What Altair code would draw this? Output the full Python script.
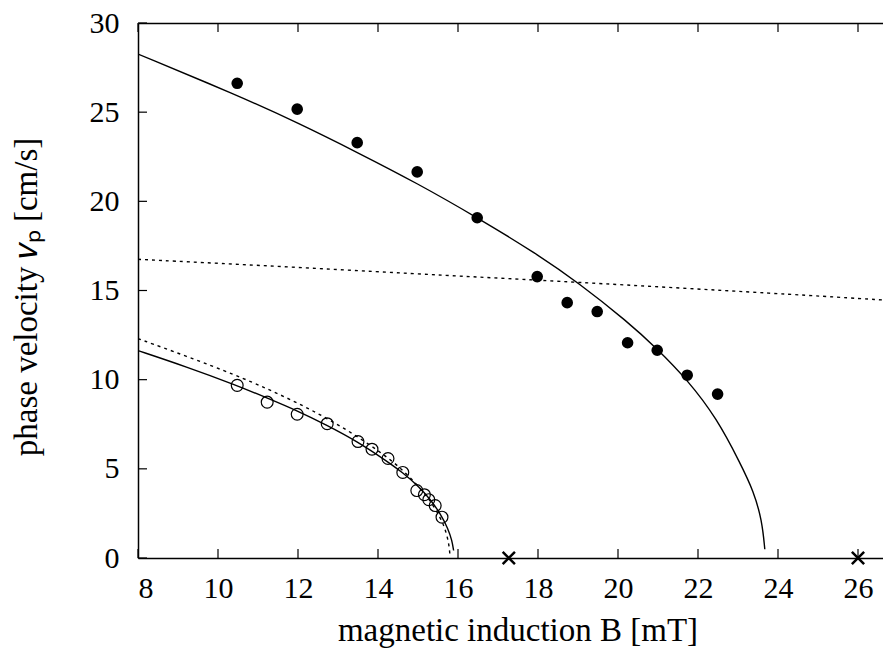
import altair as alt
import pandas as pd

W, H = 745, 535
FONT = "Liberation Serif"

# ---- data ----
# upper solid curve
up_B = [8.0, 10.48, 11.98, 13.48, 14.99, 16.49, 17.97, 19.0, 20.24, 20.97, 21.74, 22.47, 23.06, 23.39, 23.6, 23.67]
up_v = [28.26, 25.95, 24.42, 22.75, 21.0, 19.08, 17.05, 15.45, 13.25, 11.75, 9.98, 7.83, 5.3, 3.75, 2.1, 0.49]
# nearly straight dotted curve
flat_B = [8.0, 12.0, 15.81, 18.56, 24.31, 26.83]
flat_v = [16.75, 16.3, 15.83, 15.52, 14.79, 14.44]
# lower solid curve
lo_B = [8.0, 9.2, 10.47, 11.22, 11.97, 12.72, 13.47, 14.23, 14.61, 15.0, 15.3, 15.57, 15.75, 15.85, 15.89]
lo_v = [11.63, 10.73, 9.68, 8.98, 8.27, 7.45, 6.55, 5.42, 4.8, 4.05, 3.32, 2.45, 1.65, 0.98, 0.42]
# lower dotted curve
lod_B = [8.0, 9.2, 10.47, 11.22, 11.97, 12.72, 13.47, 14.23, 14.61, 15.0, 15.3, 15.57, 15.7, 15.78, 15.8]
lod_v = [12.3, 11.33, 10.23, 9.5, 8.72, 7.84, 6.85, 5.66, 4.95, 4.06, 3.25, 2.23, 1.5, 0.7, 0.1]
# filled circles
fill_B = [10.48, 11.98, 13.48, 14.98, 16.48, 17.98, 18.73, 19.48, 20.24, 20.98, 21.73, 22.49]
fill_v = [26.62, 25.17, 23.29, 21.65, 19.08, 15.78, 14.32, 13.82, 12.07, 11.65, 10.25, 9.19]
# open circles
open_B = [10.48, 11.23, 11.98, 12.73, 13.5, 13.85, 14.25, 14.62, 14.97, 15.16, 15.27, 15.43, 15.6]
open_v = [9.68, 8.74, 8.06, 7.53, 6.53, 6.1, 5.58, 4.8, 3.78, 3.55, 3.27, 2.94, 2.29]
# crosses on the axis
cross_B = [17.27, 26.0]
cross_v = [0.0, 0.0]
# tick values
x_ticks = [8, 10, 12, 14, 16, 18, 20, 22, 24, 26]
y_ticks = [0, 5, 10, 15, 20, 25, 30]

solid_df = pd.concat([
    pd.DataFrame({"B": up_B, "v": up_v, "curve": "upper"}),
    pd.DataFrame({"B": lo_B, "v": lo_v, "curve": "lower"}),
])
dotted_df = pd.concat([
    pd.DataFrame({"B": flat_B, "v": flat_v, "curve": "flat"}),
    pd.DataFrame({"B": lod_B, "v": lod_v, "curve": "lower_d"}),
])
fill_df = pd.DataFrame({"B": fill_B, "v": fill_v})
open_df = pd.DataFrame({"B": open_B, "v": open_v})
cross_df = pd.DataFrame({"B": cross_B, "v": cross_v})
xt_df = pd.DataFrame({"B": x_ticks})
yt_df = pd.DataFrame({"v": y_ticks})

xs = alt.Scale(domain=[8, 26.625], nice=False, zero=False)
ys = alt.Scale(domain=[0, 30], nice=False, zero=False)

bottom_axis = alt.Axis(
    values=x_ticks, format="d", ticks=False, grid=False,
    domainColor="black", domainWidth=1.5,
    labelFont=FONT, labelFontSize=30, labelColor="black", labelPadding=15,
    title="magnetic induction B [mT]", titleFont=FONT, titleFontSize=33,
    titleFontWeight="normal", titleColor="black",
    titleX=379.5, titleY=82, titleAlign="center", titleBaseline="alphabetic",
)
top_axis = alt.Axis(orient="top", labels=False, ticks=False, grid=False,
                    domainColor="black", domainWidth=1.5, title=None)
left_axis = alt.Axis(
    values=y_ticks, format="d", ticks=False, grid=False,
    domainColor="black", domainWidth=1.5,
    labelFont=FONT, labelFontSize=30, labelColor="black", labelPadding=19,
    title="phase velocity 𝑣ₚ [cm/s]", titleFont=FONT, titleFontSize=33,
    titleFontWeight="normal", titleColor="black", titleAngle=270,
    titleX=-102, titleY=273.5, titleAlign="center", titleBaseline="alphabetic",
)

Y = alt.Y("v:Q", scale=ys)

solid = alt.Chart(solid_df).mark_line(
    color="black", strokeWidth=1.4, clip=True, interpolate="basis"
).encode(
    x=alt.X("B:Q", scale=xs, axis=bottom_axis),
    y=alt.Y("v:Q", scale=ys, axis=left_axis),
    detail="curve:N",
)
dotted = alt.Chart(dotted_df).mark_line(
    color="black", strokeWidth=1.4, strokeDash=[3, 4], clip=True, interpolate="basis"
).encode(
    x=alt.X("B:Q", scale=xs, axis=None),
    y=Y,
    detail="curve:N",
)
filled_pts = alt.Chart(fill_df).mark_point(
    filled=True, color="black", size=135, opacity=1
).encode(x=alt.X("B:Q", scale=xs, axis=None), y=Y)
open_pts = alt.Chart(open_df).mark_point(
    filled=False, color="black", size=140, strokeWidth=1.2, opacity=1
).encode(x=alt.X("B:Q", scale=xs, axis=None), y=Y)
crosses = alt.Chart(cross_df).mark_point(
    shape="M-1,-1L1,1M-1,1L1,-1", filled=False, color="black", size=150,
    strokeWidth=2.5, opacity=1
).encode(x=alt.X("B:Q", scale=xs, axis=None), y=Y)

bottom_ticks = alt.Chart(xt_df).mark_rule(color="black", strokeWidth=1.2).encode(
    x=alt.X("B:Q", scale=xs, axis=None), y=alt.value(H), y2=alt.value(H - 9)
)
top_ticks = alt.Chart(xt_df).mark_rule(color="black", strokeWidth=1.2).encode(
    x=alt.X("B:Q", scale=xs, axis=top_axis), y=alt.value(0), y2=alt.value(9)
)
left_ticks = alt.Chart(yt_df).mark_rule(color="black", strokeWidth=1.2).encode(
    y=Y, x=alt.value(0), x2=alt.value(9)
)

chart = alt.layer(
    solid, dotted, bottom_ticks, top_ticks, left_ticks, open_pts, filled_pts, crosses
).resolve_axis(x="independent").properties(
    width=W, height=H,
    autosize=alt.AutoSizeParams(type="none"),
    padding={"left": 130, "top": 15, "right": 0, "bottom": 90},
).configure_view(stroke=None)

chart.save("out.html", embed_options={"renderer": "svg", "actions": False})
